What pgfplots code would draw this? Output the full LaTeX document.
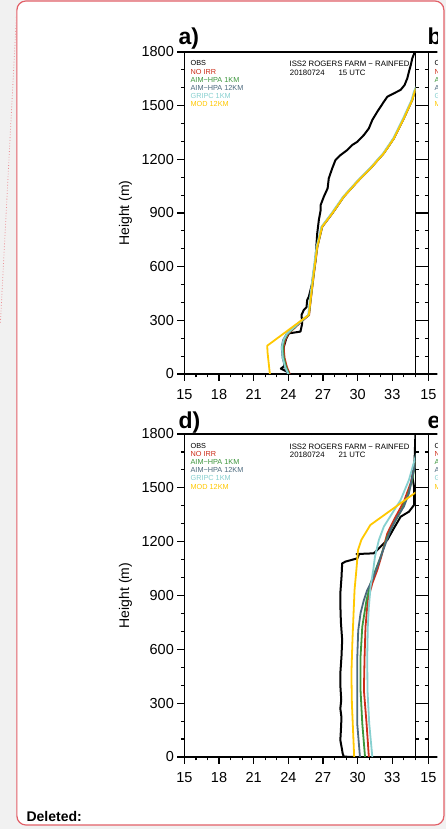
\documentclass[border=0pt]{standalone}
\usepackage{pgfplots}
\pgfplotsset{compat=1.18}
\usepackage{fontspec}
\setmainfont{Liberation Sans}
\definecolor{bggray}{RGB}{241,241,241}
\definecolor{framered}{RGB}{226,96,104}
\definecolor{noirr}{RGB}{205,45,25}
\definecolor{aimone}{RGB}{60,150,60}
\definecolor{aimtw}{RGB}{75,105,125}
\definecolor{gripc}{RGB}{135,208,208}
\definecolor{modc}{RGB}{255,200,0}
\pgfplotsset{
  panel/.style={
    scale only axis, width=231pt, height=322pt,
    xmin=15, xmax=35, ymin=0, ymax=1800,
    xtick={15,18,...,33}, ytick={0,300,...,1800},
    minor xtick={16,17,19,20,22,23,25,26,28,29,31,32,34,35},
    minor ytick={100,200,400,500,700,800,1000,1100,1300,1400,1600,1700},
    tick align=outside, xtick pos=bottom, ytick pos=both, yticklabel pos=left,
    major tick length=7pt, minor tick length=3.5pt,
    every tick/.style={black, line width=1.2pt},
    axis line style={line width=1.8pt},
    tick label style={font=\fontsize{14.5}{14.5}\selectfont},
    xticklabel style={yshift=-5pt},
    /pgf/number format/assume math mode=true,
    /pgf/number format/1000 sep={},
    clip=true,
  },
}
\tikzset{
  lg/.style={anchor=base west, font=\fontsize{7.3}{7.3}\selectfont, inner sep=0pt},
  tl/.style={font=\fontsize{7.8}{7.8}\selectfont, inner sep=0pt},
  ml/.style={line width=1.8pt, line join=round},
}
\newcommand{\legendtexts}{%
  \node[lg, text=black] at (axis description cs:0.026,0.9565) {OBS};
  \node[lg, text=noirr] at (axis description cs:0.026,0.9311) {NO IRR};
  \node[lg, text=aimone] at (axis description cs:0.026,0.9056) {AIM−HPA 1KM};
  \node[lg, text=aimtw] at (axis description cs:0.026,0.8801) {AIM−HPA 12KM};
  \node[lg, text=gripc] at (axis description cs:0.026,0.8547) {GRIPC 1KM};
  \node[lg, text=modc] at (axis description cs:0.026,0.8292) {MOD 12KM};
}
\begin{document}
\begin{tikzpicture}[x=1pt,y=1pt]
\fill[bggray] (0,0) rectangle (446,829);
\draw[framered, line width=1.2pt, fill=white, rounded corners=9pt] (16.5,4) rectangle (443.5,828);
\draw[framered!70, dotted, line width=0.8pt] (16,812) -- (0,506);
\begin{scope}
\clip (17,5) rectangle (437,827);
% ---------------- panel a ----------------
\begin{axis}[panel, at={(184pt,455pt)}, anchor=south west,
  ylabel={Height (m)},
  ylabel style={font=\fontsize{14}{14}\selectfont, at={(axis description cs:-0.255,0.5)}, anchor=center}]
\addplot[black, line width=2pt, line join=round] coordinates {
(24.1,0) (23.9,12) (23.35,30) (23.6,42) (23.7,60) (23.6,100) (23.6,150) (23.8,195) (24.04,227)
(25.05,237) (25.2,283) (25.14,330) (25.34,358) (25.57,373) (25.63,413) (25.77,432) (25.92,470)
(26.06,507) (26.2,572) (26.35,637) (26.44,730) (26.5,786) (26.64,861) (26.8,917) (26.8,945)
(27.07,991) (27.4,1038) (27.5,1094) (27.8,1150) (28.08,1196) (28.52,1224) (29.1,1252) (29.53,1280)
(29.97,1298) (30.54,1336) (30.97,1373) (31.27,1420) (31.7,1466) (32.27,1522) (32.57,1550)
(33.14,1569) (33.72,1588) (34.06,1615) (34.3,1653) (34.44,1690) (34.6,1727) (34.73,1765) (34.95,1800)};
\addplot[noirr, ml] coordinates {
(24.12,0) (23.87,40) (23.67,90) (23.59,150) (23.72,190) (24.0,225) (24.5,255) (25.08,290) (25.8,330)
(25.94,413) (26.22,563) (26.52,711) (26.94,823) (27.82,898) (28.8,991) (29.97,1075) (31.12,1150)
(32.27,1234) (33.14,1317) (34.0,1429) (34.73,1532) (34.93,1578) (35.4,1650)};
\addplot[aimone, ml] coordinates {
(24.05,0) (23.8,40) (23.6,90) (23.52,150) (23.65,190) (23.94,225) (24.45,255) (25.04,290) (25.78,330)
(25.93,413) (26.21,563) (26.51,711) (26.93,823) (27.81,898) (28.8,991) (29.97,1075) (31.12,1150)
(32.27,1234) (33.14,1317) (34.0,1429) (34.73,1532) (34.93,1578) (35.4,1650)};
\addplot[aimtw, ml] coordinates {
(23.95,0) (23.7,40) (23.5,90) (23.42,150) (23.55,190) (23.86,225) (24.38,255) (24.98,290) (25.76,330)
(25.91,413) (26.19,563) (26.49,711) (26.91,823) (27.79,898) (28.79,991) (29.96,1075) (31.11,1150)
(32.26,1234) (33.13,1317) (33.99,1429) (34.72,1532) (34.92,1578) (35.4,1650)};
\addplot[gripc, ml] coordinates {
(24.0,0) (23.72,40) (23.52,90) (23.44,150) (23.58,190) (23.88,225) (24.4,255) (25.0,290) (25.72,330)
(25.86,413) (26.14,563) (26.44,711) (26.86,823) (27.74,898) (28.74,991) (29.91,1075) (31.06,1150)
(32.21,1234) (33.08,1317) (33.94,1429) (34.67,1532) (34.87,1578) (35.35,1650)};
\addplot[modc, ml] coordinates {
(22.4,0) (22.3,60) (22.2,120) (22.17,158) (25.77,330)
(25.92,413) (26.2,563) (26.5,711) (26.92,823) (27.8,898) (28.8,991) (29.97,1075) (31.12,1150)
(32.27,1234) (33.14,1317) (34.0,1429) (34.73,1532) (34.93,1578) (35.4,1650)};
\legendtexts
\node[tl, anchor=base east] at (axis description cs:0.975,0.9534) {ISS2 ROGERS FARM − RAINFED};
\node[tl, anchor=base west] at (axis description cs:0.456,0.9264) {20180724\hspace{14pt}15 UTC};
\end{axis}
% ---------------- panel d ----------------
\begin{axis}[panel, height=323pt, at={(184pt,72pt)}, anchor=south west,
  ylabel={Height (m)},
  ylabel style={font=\fontsize{14}{14}\selectfont, at={(axis description cs:-0.255,0.5)}, anchor=center}]
\addplot[black, line width=2pt, line join=round] coordinates {
(29.7,0) (28.8,2) (28.7,20) (28.66,37) (28.5,94) (28.55,150) (28.6,220) (28.5,270) (28.58,318)
(28.5,400) (28.5,466) (28.6,560) (28.66,652) (28.55,750) (28.5,850) (28.5,912) (28.6,1000)
(28.66,1079) (28.95,1089) (29.97,1107) (30.1,1126) (29.9,1131) (31.4,1135) (31.84,1163)
(32.57,1210) (33.14,1275) (33.72,1339) (34.44,1367) (34.88,1404) (34.88,1507) (34.74,1562)
(34.93,1655) (35,1800)};
\addplot[noirr, ml] coordinates {
(30.97,0) (30.77,188) (30.54,372) (30.6,559) (30.68,726) (30.88,875) (31.27,968) (31.7,1042)
(32.05,1117) (32.33,1190) (32.57,1246) (33.14,1321) (34.0,1423) (34.58,1525) (34.93,1618) (35.3,1700)};
\addplot[aimone, ml] coordinates {
(30.64,0) (30.4,188) (30.25,372) (30.25,559) (30.4,726) (30.77,875) (31.12,968) (31.55,1042)
(32.0,1117) (32.57,1228) (33.14,1302) (33.72,1367) (34.3,1451) (34.73,1544) (34.93,1618) (35.3,1700)};
\addplot[aimtw, ml] coordinates {
(30.2,0) (29.96,188) (29.97,372) (29.97,559) (30.05,705) (30.25,801) (30.54,875) (30.83,930)
(31.27,987) (31.7,1060) (32.0,1117) (32.42,1190) (32.85,1265) (33.43,1339) (34.0,1395)
(34.44,1470) (34.73,1562) (34.93,1618) (35.3,1700)};
\addplot[gripc, ml] coordinates {
(31.27,0) (31.0,188) (30.85,372) (30.83,559) (30.88,726) (30.97,838) (31.12,949) (31.35,1042)
(31.5,1117) (31.84,1210) (32.27,1284) (32.99,1358) (33.72,1432) (34.44,1544) (34.93,1655) (35.2,1720)};
\addplot[modc, ml] coordinates {
(29.7,0) (29.6,150) (29.5,300) (29.46,466) (29.55,652) (29.73,930) (29.9,1050) (30.03,1154)
(30.32,1210) (31.1,1293) (34.93,1470) (35.5,1496)};
\legendtexts
\node[tl, anchor=base east] at (axis description cs:0.975,0.9534) {ISS2 ROGERS FARM − RAINFED};
\node[tl, anchor=base west] at (axis description cs:0.456,0.9264) {20180724\hspace{14pt}21 UTC};
\end{axis}
% ---------------- partial panels b and e ----------------
\begin{axis}[panel, at={(428pt,455pt)}, anchor=south west, yticklabels={}]
\addplot[draw=none] coordinates {(15,0)};
\legendtexts
\end{axis}
\begin{axis}[panel, height=323pt, at={(428pt,72pt)}, anchor=south west, yticklabels={}]
\addplot[draw=none] coordinates {(15,0)};
\legendtexts
\end{axis}
\node[anchor=base west, font=\bfseries\fontsize{23}{23}\selectfont, inner sep=0pt] at (178,784) {a)};
\node[anchor=base west, font=\bfseries\fontsize{23}{23}\selectfont, inner sep=0pt] at (178,400) {d)};
\node[anchor=base west, font=\bfseries\fontsize{23}{23}\selectfont, inner sep=0pt] at (427,784) {b)};
\node[anchor=base west, font=\bfseries\fontsize{23}{23}\selectfont, inner sep=0pt] at (427,400) {e)};
\end{scope}
\node[anchor=base west, font=\bfseries\fontsize{14}{14}\selectfont, inner sep=0pt] at (26,8) {Deleted:};
\end{tikzpicture}
\end{document}
